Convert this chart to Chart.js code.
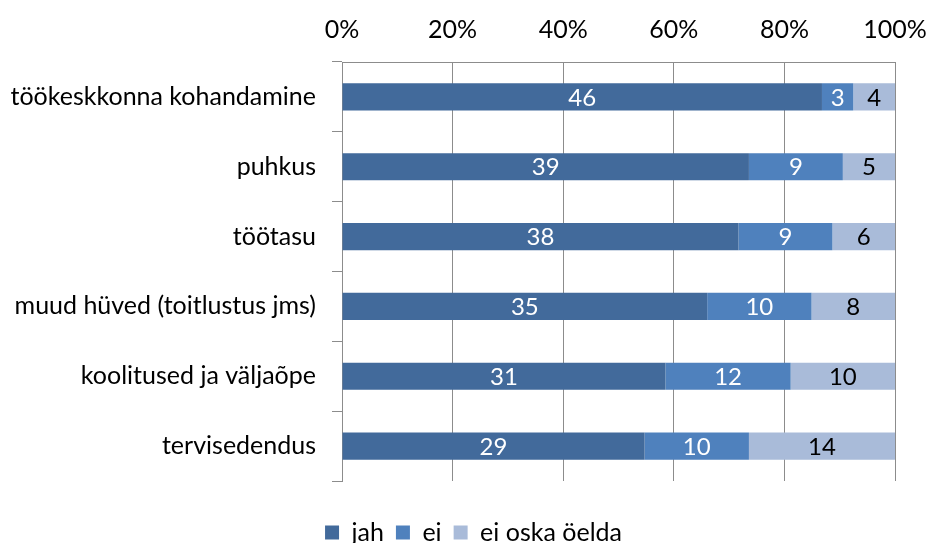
<!DOCTYPE html>
<html>
<head>
<meta charset="utf-8">
<script src="https://cdn.jsdelivr.net/npm/chart.js@4"></script>
<style>
  html, body { margin: 0; padding: 0; background: #fff; }
  #wrap { width: 930px; height: 543px; }
</style>
</head>
<body>
<div id="wrap"><canvas id="chart" width="930" height="543"></canvas></div>
<script>
const categories = ['töökeskkonna kohandamine', 'puhkus', 'töötasu', 'muud hüved (toitlustus jms)', 'koolitused ja väljaõpe', 'tervisedendus'];
const seriesNames = ['jah', 'ei', 'ei oska öelda'];
const jah = [46, 39, 38, 35, 31, 29];
const ei = [3, 9, 9, 10, 12, 10];
const eiOska = [4, 5, 6, 8, 10, 14];
const tickLabels = ['0%', '20%', '40%', '60%', '80%', '100%'];

const colors = ['#426A9B', '#4F81BD', '#A9BBD9'];
const labelColors = ['#ffffff', '#ffffff', '#000000'];
const FONT = 'Lato, "Noto Sans", sans-serif';

const counts = [jah, ei, eiOska];
const totals = categories.map((c, i) => jah[i] + ei[i] + eiOska[i]);

// labels drawn in the middle of each segment
const segmentLabels = {
  id: 'segmentLabels',
  afterDatasetsDraw(chart) {
    const ctx = chart.ctx;
    ctx.save();
    ctx.font = '24px ' + FONT;
    ctx.textAlign = 'center';
    ctx.textBaseline = 'middle';
    chart.data.datasets.forEach((ds, di) => {
      const meta = chart.getDatasetMeta(di);
      meta.data.forEach((bar, i) => {
        const p = bar.getCenterPoint();
        ctx.fillStyle = labelColors[di];
        ctx.fillText(String(counts[di][i]), p.x, p.y + 1);
      });
    });
    ctx.restore();
  }
};

// push the legend lower and a bit right, like the original
const moveLegend = {
  id: 'moveLegend',
  afterLayout(chart) {
    const lg = chart.legend;
    lg.top += 27; lg.bottom += 27;
    lg.left += 26; lg.right += 26;
  }
};

new Chart(document.getElementById('chart'), {
  type: 'bar',
  data: {
    labels: categories,
    datasets: counts.map((arr, di) => ({
      label: seriesNames[di],
      data: arr.map((v, i) => v / totals[i] * 100),
      backgroundColor: colors[di],
      borderWidth: 0,
      categoryPercentage: 1,
      barPercentage: 0.39
    }))
  },
  options: {
    indexAxis: 'y',
    responsive: false,
    animation: false,
    layout: { padding: { left: 0, right: 35, top: 0, bottom: 15 } },
    plugins: {
      legend: {
        position: 'bottom',
        labels: {
          font: { family: FONT, size: 25 },
          color: '#000',
          boxWidth: 14,
          boxHeight: 14,
          padding: 12
        }
      },
      tooltip: { enabled: false }
    },
    scales: {
      x: {
        position: 'top',
        stacked: true,
        min: 0,
        max: 100,
        afterFit(s) { s.height = 62; s.paddingRight = 0; s.paddingLeft = 0; },
        afterBuildTicks(s) { s.ticks = tickLabels.map((t, i) => ({ value: i * 20 })); },
        ticks: {
          font: { family: FONT, size: 25 },
          color: '#000',
          padding: 17,
          callback: (v, i) => tickLabels[i]
        },
        grid: { color: '#8c8c8c', drawTicks: false },
        border: { color: '#8c8c8c' }
      },
      y: {
        stacked: true,
        afterFit(s) { s.width = 342; },
        ticks: {
          font: { family: FONT, size: 25 },
          color: '#000',
          padding: 16
        },
        grid: { offset: true, drawOnChartArea: false, tickLength: 10, color: '#8c8c8c' },
        border: { color: '#8c8c8c' }
      }
    }
  },
  plugins: [segmentLabels, moveLegend]
});
</script>
</body>
</html>
